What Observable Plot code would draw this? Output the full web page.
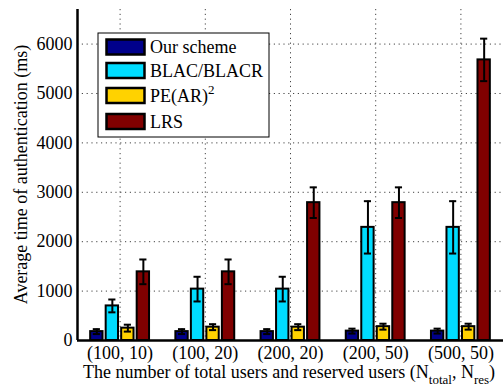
<!DOCTYPE html>
<html><head><meta charset="utf-8">
<script src="https://cdn.jsdelivr.net/npm/d3@7"></script>
<script src="https://cdn.jsdelivr.net/npm/@observablehq/plot@0.6"></script>
<style>body{margin:0;background:#fff;} #chart{width:503px;height:387px;}</style>
</head><body><div id="chart"></div>
<script>
const categories = ["(100, 10)", "(100, 20)", "(200, 20)", "(200, 50)", "(500, 50)"];
const seriesNames = ["Our scheme", "BLAC/BLACR", "PE(AR)", "LRS"];
const seriesSup = ["", "", "2", ""];
const seriesColors = ["#00008b", "#00dcff", "#ffd200", "#800000"];
const ourScheme = [180, 180, 180, 190, 190];
const ourSchemeErr = [50, 50, 50, 50, 50];
const blac = [700, 1040, 1040, 2290, 2290];
const blacErr = [130, 250, 250, 530, 530];
const pear2 = [250, 270, 270, 280, 280];
const pear2Err = [70, 60, 60, 60, 60];
const lrs = [1390, 1390, 2790, 2790, 5680];
const lrsErr = [250, 250, 310, 310, 430];
const yTicks = [0, 1000, 2000, 3000, 4000, 5000, 6000];

const seriesValues = [ourScheme, blac, pear2, lrs];
const seriesErrs = [ourSchemeErr, blacErr, pear2Err, lrsErr];
const pitch = 0.182, bw = 0.145, cap = 0.042;
const rows = [];
seriesValues.forEach((vals, j) => vals.forEach((v, i) => {
  const c = i + 1 + (j - 1.5) * pitch;
  rows.push({c, v, e: seriesErrs[j][i], color: seriesColors[j]});
}));
const capRows = rows.flatMap(d => [{c: d.c, y: d.v - d.e}, {c: d.c, y: d.v + d.e}]);
const font = "'Liberation Serif', 'Times New Roman', serif";

const plot = Plot.plot({
  width: 503, height: 387,
  marginTop: 9, marginBottom: 47, marginLeft: 77, marginRight: 0,
  style: {fontFamily: font, fontSize: "18px", background: "white", color: "black", overflow: "visible"},
  x: {domain: [0.5, 5.5], axis: null},
  y: {domain: [0, 6700], axis: null},
  marks: [
    Plot.ruleY(yTicks.filter(t => t > 0), {stroke: "#444", strokeDasharray: "1.2,3.6", strokeWidth: 1}),
    Plot.ruleX(d3.range(1, categories.length + 1), {stroke: "#444", strokeDasharray: "1.2,3.6", strokeWidth: 1}),
    Plot.rectY(rows, {x1: d => d.c - bw / 2, x2: d => d.c + bw / 2, y1: 0, y2: "v", fill: "color", stroke: "black", strokeWidth: 2}),
    Plot.ruleX(rows, {x: "c", y1: d => d.v - d.e, y2: d => d.v + d.e, stroke: "black", strokeWidth: 2}),
    Plot.ruleY(capRows, {x1: d => d.c - cap, x2: d => d.c + cap, y: "y", stroke: "black", strokeWidth: 2}),
    Plot.ruleX([0.5], {stroke: "black", strokeWidth: 2.5}),
    Plot.ruleY([0], {stroke: "black", strokeWidth: 2.5}),
    Plot.axisY(yTicks, {tickSize: 0, tickPadding: 5, label: null, fontSize: 18, tickFormat: d => String(d)}),
    Plot.axisX(d3.range(1, categories.length + 1), {tickSize: 0, tickPadding: 6, label: null, fontSize: 18, tickFormat: i => categories[i - 1]})
  ]
});
document.getElementById("chart").appendChild(plot);

const svg = d3.select(plot);
// y label
svg.append("text").attr("transform", "translate(27,174.5) rotate(-90)")
  .attr("text-anchor", "middle").attr("font-family", font).attr("font-size", 18)
  .text("Average time of authentication (ms)");
// x label with subscripts
const xl = svg.append("text").attr("x", 289).attr("y", 378).attr("text-anchor", "middle")
  .attr("font-family", font).attr("font-size", 18);
xl.append("tspan").text("The number of total users and reserved users (N");
xl.append("tspan").attr("font-size", 13).attr("dy", 6).text("total");
xl.append("tspan").attr("dy", -6).text(", N");
xl.append("tspan").attr("font-size", 13).attr("dy", 6).text("res");
xl.append("tspan").attr("dy", -6).text(")");
// legend
const lg = svg.append("g").attr("transform", "translate(98,33)");
lg.append("rect").attr("x", 0).attr("y", 0).attr("width", 171).attr("height", 104)
  .attr("fill", "white").attr("stroke", "black").attr("stroke-width", 1);
const rowY = [14, 37.5, 62.5, 88.5];
seriesNames.forEach((name, j) => {
  lg.append("rect").attr("x", 8.5).attr("y", rowY[j] - 7.5).attr("width", 38).attr("height", 15)
    .attr("fill", seriesColors[j]).attr("stroke", "black").attr("stroke-width", 2.5);
  const t = lg.append("text").attr("x", 52).attr("y", rowY[j] + 6).attr("text-anchor", "start")
    .attr("font-family", font).attr("font-size", 18);
  t.append("tspan").text(name);
  if (seriesSup[j]) t.append("tspan").attr("font-size", 13).attr("dy", -8).text(seriesSup[j]);
});
</script></body></html>
